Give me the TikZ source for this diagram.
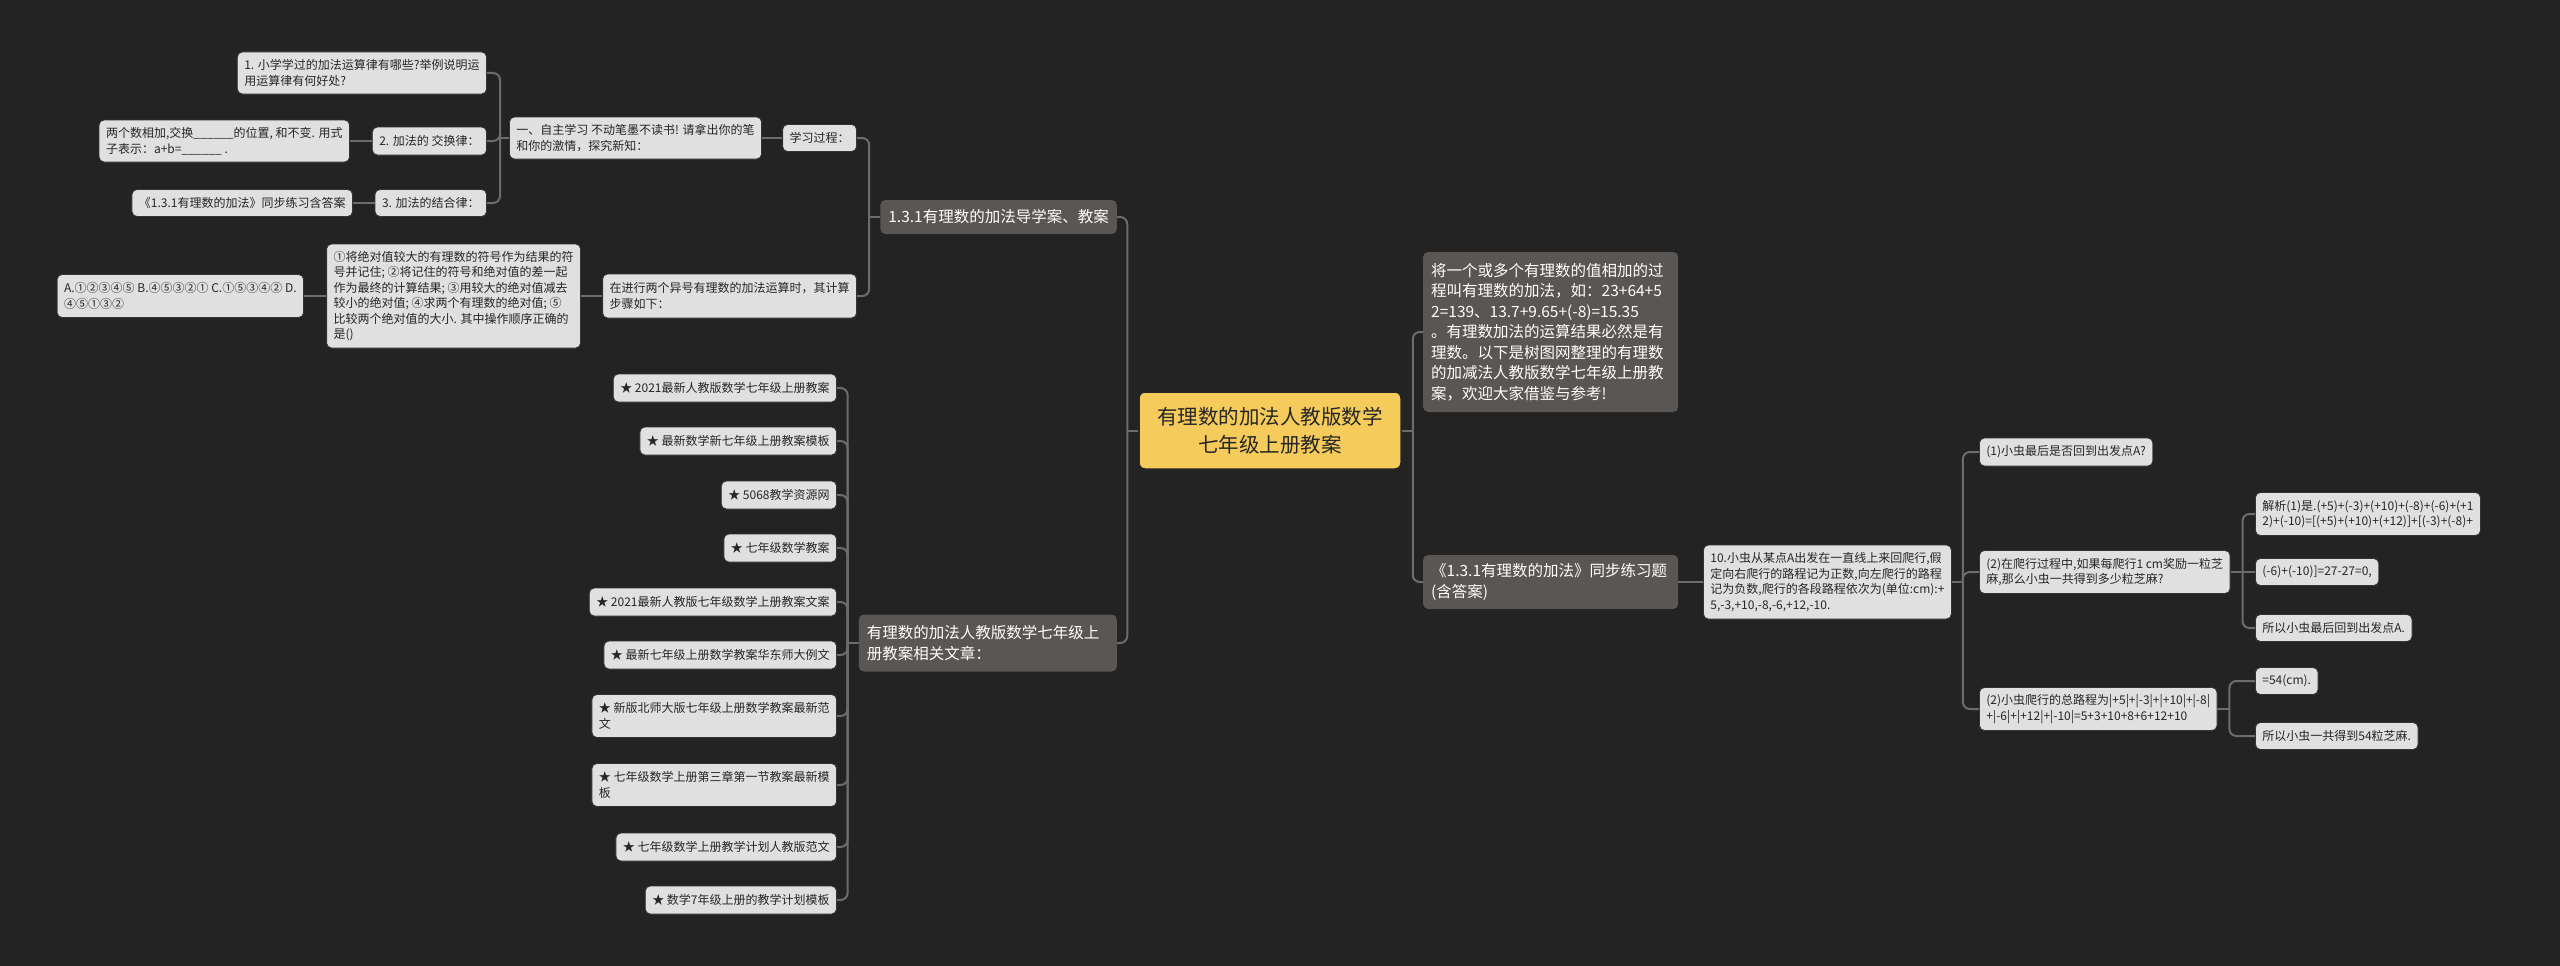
\documentclass[tikz,border=0pt]{standalone}
\usepackage{fontspec}
\setmainfont{Noto Sans CJK SC}
\usetikzlibrary{calc}
\definecolor{bg}{HTML}{232323}
\definecolor{conncol}{HTML}{6C6C6C}
\definecolor{lightfill}{HTML}{E0E0E0}
\definecolor{darkfill}{HTML}{5A5654}
\definecolor{yellowfill}{HTML}{F5CB5C}
\definecolor{lighttext}{HTML}{262626}
\tikzset{
  leaf/.style={rectangle, rounded corners=5pt, fill=lightfill, draw=black!80, line width=0.8pt,
    text=lighttext, align=left, font=\fontsize{12}{15.5}\selectfont, inner xsep=7pt, inner ysep=4pt},
  branch/.style={rectangle, rounded corners=5pt, fill=darkfill, text=white, align=left,
    font=\fontsize{15.5}{20.5}\selectfont, inner xsep=8pt, inner ysep=5pt},
  rootbox/.style={rectangle, rounded corners=6pt, fill=yellowfill, draw=black!85, line width=1.5pt,
    text=lighttext, align=center, font=\fontsize{20.5}{28}\selectfont, minimum width=262pt, minimum height=77pt},
  link/.style={draw=conncol, line width=2pt, rounded corners=7pt},
}
\begin{document}
\begin{tikzpicture}[x=1pt,y=-1pt]
\useasboundingbox (0,0) rectangle (2560,966);
\fill[bg] (0,0) rectangle (2560,966);

% root
\node[rootbox] (root) at (1270,430.5) {有理数的加法人教版数学\\七年级上册教案};

% main branches
\node[branch, anchor=east, minimum height=34pt] (B1) at (1117,217) {1.3.1有理数的加法导学案、教案};
\node[branch, anchor=east, text width=242pt, minimum height=57pt] (B2) at (1117,643) {有理数的加法人教版数学七年级上\\册教案相关文章：};
\node[branch, anchor=west, text width=239pt, minimum height=160pt] (R1) at (1423,332) {将一个或多个有理数的值相加的过\\程叫有理数的加法，如：23+64+5\\2=139、13.7+9.65+(-8)=15.35\\。有理数加法的运算结果必然是有\\理数。以下是树图网整理的有理数\\的加减法人教版数学七年级上册教\\案，欢迎大家借鉴与参考!};
\node[branch, anchor=west, text width=239pt, minimum height=54pt] (R2) at (1423,582) {《1.3.1有理数的加法》同步练习题\\(含答案)};

% B1 subtree
\node[leaf, anchor=east, minimum height=27pt] (xuexi) at (857,138) {学习过程：};
\node[leaf, anchor=east, minimum height=44pt] (jinxing) at (857,296) {在进行两个异号有理数的加法运算时，其计算\\步骤如下：};
\node[leaf, anchor=east, minimum height=42pt] (yi) at (762,138) {一、自主学习 不动笔墨不读书! 请拿出你的笔\\和你的激情，探究新知：};
\node[leaf, anchor=east, minimum height=42pt] (q1) at (487,73) {1. 小学学过的加法运算律有哪些?举例说明运\\用运算律有何好处?};
\node[leaf, anchor=east, minimum height=28pt] (q2) at (487,141) {2. 加法的 交换律：};
\node[leaf, anchor=east, minimum height=27pt] (q3) at (487,203) {3. 加法的结合律：};
\node[leaf, anchor=east, minimum height=42pt] (swap) at (350,141) {两个数相加,交换\_\_\_\_\_\_的位置, 和不变. 用式\\子表示：a+b=\_\_\_\_\_\_ .};
\node[leaf, anchor=east, minimum height=27pt] (tongbu) at (353,203) {《1.3.1有理数的加法》同步练习含答案};
\node[leaf, anchor=east, minimum height=104pt] (steps) at (581,296) {①将绝对值较大的有理数的符号作为结果的符\\号并记住; ②将记住的符号和绝对值的差一起\\作为最终的计算结果; ③用较大的绝对值减去\\较小的绝对值; ④求两个有理数的绝对值; ⑤\\比较两个绝对值的大小. 其中操作顺序正确的\\是()};
\node[leaf, anchor=east, minimum height=43pt] (opts) at (304,296) {A.①②③④⑤ B.④⑤③②① C.①⑤③④② D.\\④⑤①③②};

% B2 subtree
\node[leaf, anchor=east, minimum height=28pt] (a1) at (837,388) {★ 2021最新人教版数学七年级上册教案};
\node[leaf, anchor=east, minimum height=28pt] (a2) at (837,441) {★ 最新数学新七年级上册教案模板};
\node[leaf, anchor=east, minimum height=28pt] (a3) at (837,495) {★ 5068教学资源网};
\node[leaf, anchor=east, minimum height=28pt] (a4) at (837,548) {★ 七年级数学教案};
\node[leaf, anchor=east, minimum height=28pt] (a5) at (837,602) {★ 2021最新人教版七年级数学上册教案文案};
\node[leaf, anchor=east, minimum height=28pt] (a6) at (837,655) {★ 最新七年级上册数学教案华东师大例文};
\node[leaf, anchor=east, minimum height=43pt] (a7) at (837,716) {★ 新版北师大版七年级上册数学教案最新范\\文};
\node[leaf, anchor=east, minimum height=43pt] (a8) at (837,785) {★ 七年级数学上册第三章第一节教案最新模\\板};
\node[leaf, anchor=east, minimum height=28pt] (a9) at (837,847) {★ 七年级数学上册教学计划人教版范文};
\node[leaf, anchor=east, minimum height=28pt] (a10) at (837,900) {★ 数学7年级上册的教学计划模板};

% R2 subtree
\node[leaf, anchor=west, minimum height=74pt] (bug) at (1703,582) {10.小虫从某点A出发在一直线上来回爬行,假\\定向右爬行的路程记为正数,向左爬行的路程\\记为负数,爬行的各段路程依次为(单位:cm):+\\5,-3,+10,-8,-6,+12,-10.};
\node[leaf, anchor=west, minimum height=28pt] (c1) at (1979,452) {(1)小虫最后是否回到出发点A?};
\node[leaf, anchor=west, minimum height=43pt] (c2) at (1979,572) {(2)在爬行过程中,如果每爬行1 cm奖励一粒芝\\麻,那么小虫一共得到多少粒芝麻?};
\node[leaf, anchor=west, minimum height=43pt] (c3) at (1979,709) {(2)小虫爬行的总路程为|+5|+|-3|+|+10|+|-8|\\+|-6|+|+12|+|-10|=5+3+10+8+6+12+10};
\node[leaf, anchor=west, minimum height=43pt] (jiexi) at (2255,514) {解析(1)是.(+5)+(-3)+(+10)+(-8)+(-6)+(+1\\2)+(-10)=[(+5)+(+10)+(+12)]+[(-3)+(-8)+};
\node[leaf, anchor=west, minimum height=27pt] (d2) at (2255,572) {(-6)+(-10)]=27-27=0,};
\node[leaf, anchor=west, minimum height=27pt] (d3) at (2255,628) {所以小虫最后回到出发点A.};
\node[leaf, anchor=west, minimum height=27pt] (e1) at (2255,681) {=54(cm).};
\node[leaf, anchor=west, minimum height=27pt] (e2) at (2255,736) {所以小虫一共得到54粒芝麻.};

% junction coordinates
\coordinate (rootL) at ($(root.west)+(-11,0)$);
\coordinate (rootR) at ($(root.east)+(11,0)$);
\coordinate (B1j) at ($(B1.west)+(-11,0)$);
\coordinate (B2j) at ($(B2.west)+(-11,0)$);
\coordinate (yij) at ($(yi.west)+(-9,0)$);
\coordinate (bugj) at ($(bug.east)+(11,0)$);
\coordinate (c2j) at ($(c2.east)+(12,0)$);
\coordinate (c3j) at ($(c3.east)+(12,0)$);

% connectors
\draw[link] (root.west) -- (rootL);
\draw[link] (B1.east) -| (rootL);
\draw[link] (B2.east) -| (rootL);
\draw[link] (root.east) -- (rootR);
\draw[link] (R1.west) -| (rootR);
\draw[link] (R2.west) -| (rootR);

\draw[link] (B1.west) -- (B1j);
\draw[link] (xuexi.east) -| (B1j);
\draw[link] (jinxing.east) -| (B1j);
\draw[link] (xuexi.west) -- (yi.east);
\draw[link] (yi.west) -- (yij);
\draw[link] (q1.east) -| (yij);
\draw[link] (q2.east) -| (yij);
\draw[link] (q3.east) -| (yij);
\draw[link] (q2.west) -- (swap.east);
\draw[link] (q3.west) -- (tongbu.east);
\draw[link] (jinxing.west) -- (steps.east);
\draw[link] (steps.west) -- (opts.east);

\draw[link] (B2.west) -- (B2j);
\foreach \n in {a1,a2,a3,a4,a5,a6,a7,a8,a9,a10}{
  \draw[link] (\n.east) -| (B2j);
}

\draw[link] (R2.east) -- (bug.west);
\draw[link] (bug.east) -- (bugj);
\draw[link] (c1.west) -| (bugj);
\draw[link] (c2.west) -| (bugj);
\draw[link] (c3.west) -| (bugj);
\draw[link] (c2.east) -- (c2j);
\draw[link] (jiexi.west) -| (c2j);
\draw[link] (d2.west) -- (c2j);
\draw[link] (d3.west) -| (c2j);
\draw[link] (c3.east) -- (c3j);
\draw[link] (e1.west) -| (c3j);
\draw[link] (e2.west) -| (c3j);
\end{tikzpicture}
\end{document}
